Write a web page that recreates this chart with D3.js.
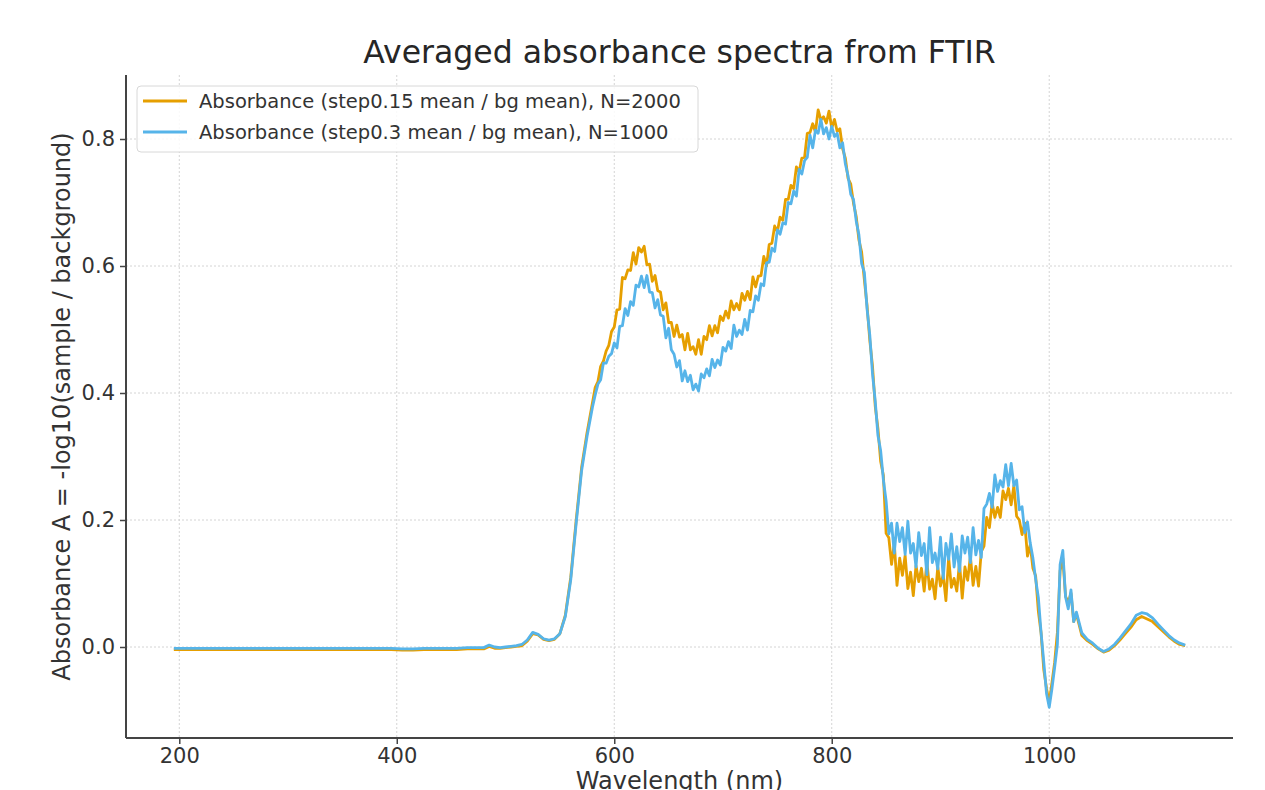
<!DOCTYPE html>
<html>
<head>
<meta charset="utf-8">
<script src="https://cdn.jsdelivr.net/npm/d3@7/dist/d3.min.js"></script>
<style>
  html, body { margin: 0; padding: 0; background: #fff; }
  svg { display: block; font-family: "DejaVu Sans", sans-serif; }
</style>
</head>
<body>
<svg id="chart" width="1265" height="790"></svg>
<script>
// ---------- data ----------
const wavelengths = [
  195,205,215,225,235,245,255,265,275,285,295,305,315,325,335,345,355,365,375,385,395,405,415,425,435,445,455,465,475,
  480,485,490,495,500,505,510,515,520,525,530,535,540,545,550,555,560,565,570,575,580,
  582.5,585,587.5,590,592.5,595,597.5,600,
  602.5,605,607.5,610,612.5,615,617.5,620,
  622.5,625,627.5,630,632.5,635,637.5,640,
  642.5,645,647.5,650,652.5,655,657.5,660,
  662.5,665,667.5,670,672.5,675,677.5,680,
  682.5,685,687.5,690,692.5,695,697.5,700,
  702.5,705,707.5,710,712.5,715,717.5,720,
  722.5,725,727.5,730,732.5,735,737.5,740,
  742.5,745,747.5,750,752.5,755,757.5,760,
  762.5,765,767.5,770,772.5,775,777.5,780,
  782.5,785,787.5,790,792.5,795,797.5,800,
  802.5,805,807.5,810,812.5,815,817.5,820,
  822.5,825,827.5,830,832.5,835,837.5,840,
  842.5,845,847.5,850,852.5,855,857.5,860,
  862.5,865,867.5,870,872.5,875,877.5,880,
  882.5,885,887.5,890,892.5,895,897.5,900,
  902.5,905,907.5,910,912.5,915,917.5,920,
  922.5,925,927.5,930,932.5,935,937.5,940,
  942.5,945,947.5,950,952.5,955,957.5,960,
  962.5,965,967.5,970,972.5,975,977.5,980,
  982.5,985,987.5,990,992.5,995,997.5,1000,
  1002.5,1005,1007.5,1010,1012.5,1015,1017.5,1020,
  1022.5,1025,
  1030,1035,1040,1045,1050,1055,1060,1065,1070,1075,1080,1085,1090,1095,1100,1105,1110,1115,1120,1125
];

// Absorbance (step0.15 mean / bg mean), N=2000
const absStep015 = [
  -.004,-.004,-.004,-.004,-.004,-.004,-.004,-.004,-.004,-.004,-.004,-.004,-.004,-.004,-.004,-.004,-.004,-.004,-.004,-.004,-.004,-.005,-.005,-.004,-.004,-.004,-.004,-.003,-.003,
  -.003,.001,-.002,-.002,-.001,.000,.001,.002,.009,.021,.019,.012,.010,.012,.021,.050,.110,.200,.283,.338,.385,
  .409,.418,.442,.450,.466,.475,.497,.504,
  .531,.532,.582,.580,.594,.593,.621,.603,
  .629,.622,.631,.602,.603,.576,.585,.561,
  .559,.531,.542,.511,.511,.489,.507,.488,
  .492,.468,.494,.468,.473,.461,.484,.461,
  .489,.484,.506,.490,.506,.495,.521,.514,
  .529,.518,.545,.531,.541,.531,.557,.546,
  .560,.547,.583,.567,.584,.585,.615,.600,
  .634,.636,.663,.654,.677,.672,.705,.705,
  .727,.722,.756,.748,.770,.771,.809,.810,
  .824,.811,.846,.830,.835,.825,.844,.817,
  .831,.812,.816,.785,.770,.738,.729,.699,
  .678,.641,.622,.578,.537,.483,.442,.379,
  .344,.292,.270,.179,.172,.130,.164,.097,
  .140,.113,.144,.092,.118,.081,.128,.103,
  .124,.088,.134,.091,.107,.076,.126,.096,
  .114,.073,.141,.094,.108,.088,.133,.077,
  .126,.105,.143,.097,.127,.096,.150,.159,
  .204,.188,.227,.204,.220,.204,.246,.232,
  .250,.224,.254,.206,.200,.177,.195,.143,
  .161,.124,.112,.056,.022,-.036,-.065,-.088,
  -.056,-.024,.023,.120,.140,.080,.070,.085,
  .040,.052,
  .018,.010,.004,-.003,-.008,-.005,.002,.011,.021,.031,.043,.048,.044,.040,.032,.024,.016,.009,.004,.002
];

// Absorbance (step0.3 mean / bg mean), N=1000
const absStep03 = [
  -.002,-.002,-.002,-.002,-.002,-.002,-.002,-.002,-.002,-.002,-.002,-.002,-.002,-.002,-.002,-.002,-.002,-.002,-.002,-.002,-.002,-.003,-.003,-.002,-.002,-.002,-.002,-.001,-.001,
  -.001,.003,.000,-.001,.000,.001,.002,.004,.011,.023,.020,.013,.011,.013,.021,.048,.106,.195,.278,.332,.378,
  .397,.414,.421,.447,.447,.458,.462,.479,
  .471,.505,.506,.533,.522,.544,.538,.570,
  .567,.584,.566,.585,.559,.558,.534,.547,
  .523,.521,.487,.502,.468,.461,.441,.451,
  .419,.435,.418,.428,.405,.414,.403,.430,
  .424,.438,.427,.453,.440,.452,.444,.472,
  .466,.481,.470,.507,.489,.499,.492,.516,
  .499,.530,.528,.553,.546,.572,.569,.605,
  .606,.628,.623,.657,.650,.668,.666,.700,
  .698,.718,.710,.752,.745,.766,.771,.806,
  .786,.814,.809,.831,.808,.818,.800,.820,
  .804,.809,.786,.794,.761,.742,.713,.705,
  .671,.649,.604,.590,.532,.491,.430,.387,
  .333,.309,.263,.230,.178,.195,.148,.195,
  .166,.188,.146,.198,.148,.163,.126,.180,
  .144,.163,.114,.188,.133,.148,.123,.173,
  .108,.163,.138,.178,.126,.158,.119,.175,
  .148,.173,.133,.188,.145,.168,.141,.218,
  .225,.242,.220,.271,.245,.262,.252,.287,
  .254,.289,.254,.263,.216,.221,.180,.197,
  .164,.140,.107,.078,.023,-.024,-.073,-.095,
  -.066,-.032,.004,.130,.152,.079,.060,.090,
  .040,.055,
  .022,.012,.006,-.002,-.007,-.003,.004,.014,.025,.036,.050,.054,.052,.046,.036,.027,.018,.011,.006,.003
];

const xTicks = [200, 400, 600, 800, 1000];
const yTicks = [0.0, 0.2, 0.4, 0.6, 0.8];
const seriesNames = [
  "Absorbance (step0.15 mean / bg mean), N=2000",
  "Absorbance (step0.3 mean / bg mean), N=1000"
];
const seriesColors = ["#E69F00", "#56B4E9"];
const titleText = "Averaged absorbance spectra from FTIR";
const xLabel = "Wavelength (nm)";
const yLabel = "Absorbance A = -log10(sample / background)";

// ---------- layout ----------
const svg = d3.select("#chart");
const pLeft = 126, pRight = 1233, pTop = 75, pBottom = 738;

const x = d3.scaleLinear().domain([151, 1169]).range([pLeft, pRight]);
const y = d3.scaleLinear().domain([-0.1433, 0.9008]).range([pBottom, pTop]);

// grid
const grid = svg.append("g");
grid.selectAll("line.vx").data(xTicks).enter().append("line")
  .attr("x1", d => x(d)).attr("x2", d => x(d))
  .attr("y1", pTop).attr("y2", pBottom)
  .attr("stroke", "#d4d4d4").attr("stroke-width", 1).attr("stroke-dasharray", "2,2");
grid.selectAll("line.hy").data(yTicks).enter().append("line")
  .attr("x1", pLeft).attr("x2", pRight)
  .attr("y1", d => y(d)).attr("y2", d => y(d))
  .attr("stroke", "#d4d4d4").attr("stroke-width", 1).attr("stroke-dasharray", "2,2");

// lines
const series = [absStep015, absStep03];
const line = d3.line().x((d, i) => x(wavelengths[i])).y(d => y(d));
series.forEach((vals, k) => {
  svg.append("path")
    .datum(vals)
    .attr("d", line)
    .attr("fill", "none")
    .attr("stroke", seriesColors[k])
    .attr("stroke-width", 2.8)
    .attr("stroke-linejoin", "round");
});

// axes
const xAxis = svg.append("g").attr("transform", `translate(0,${pBottom})`)
  .call(d3.axisBottom(x).tickValues(xTicks).tickFormat(d3.format("d")).tickSize(6).tickPadding(4));
const yAxis = svg.append("g").attr("transform", `translate(${pLeft},0)`)
  .call(d3.axisLeft(y).tickValues(yTicks).tickFormat(d3.format(".1f")).tickSize(6).tickPadding(5));
[xAxis, yAxis].forEach(a => {
  a.select(".domain").attr("stroke", "#444").attr("stroke-width", 2);
  a.selectAll(".tick line").attr("stroke", "#444").attr("stroke-width", 1.5);
  a.selectAll(".tick text").attr("fill", "#333").style("font-size", "21px").style("font-family", "DejaVu Sans");
});
yAxis.select(".domain").attr("d", `M0,${pTop}V${pBottom}`);
xAxis.select(".domain").attr("d", `M${pLeft},0H${pRight}`);

// title and labels
svg.append("text").attr("x", (pLeft + pRight) / 2).attr("y", 63)
  .attr("text-anchor", "middle").attr("fill", "#262626")
  .style("font-size", "31.5px").text(titleText);
svg.append("text").attr("x", (pLeft + pRight) / 2).attr("y", 789)
  .attr("text-anchor", "middle").attr("fill", "#333")
  .style("font-size", "24px").text(xLabel);
svg.append("text")
  .attr("transform", `translate(70,${(pTop + pBottom) / 2}) rotate(-90)`)
  .attr("text-anchor", "middle").attr("fill", "#333")
  .style("font-size", "24px").text(yLabel);

// legend
const lg = svg.append("g");
lg.append("rect").attr("x", 137).attr("y", 86).attr("width", 561).attr("height", 66)
  .attr("rx", 4).attr("fill", "#fff").attr("fill-opacity", 0.85)
  .attr("stroke", "#d8d8d8").attr("stroke-width", 1);
seriesNames.forEach((name, k) => {
  const yy = 101 + k * 31;
  lg.append("line").attr("x1", 143).attr("x2", 187).attr("y1", yy).attr("y2", yy)
    .attr("stroke", seriesColors[k]).attr("stroke-width", 3);
  lg.append("text").attr("x", 199).attr("y", yy + 7)
    .attr("fill", "#333").style("font-size", "19.5px").text(name);
});
</script>
</body>
</html>
